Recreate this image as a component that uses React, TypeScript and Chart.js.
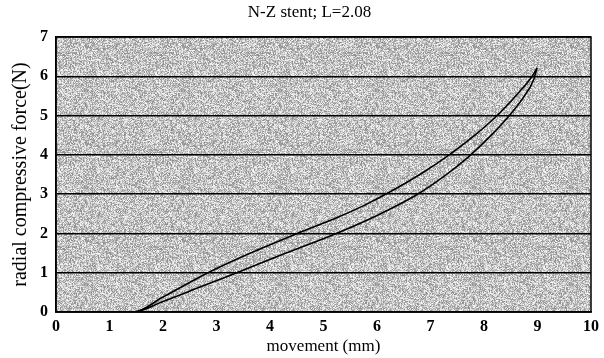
import React, { useEffect, useRef } from "react";
import { Chart, registerables } from "chart.js";

Chart.register(...registerables);

const titleText = "N-Z stent; L=2.08";
const xTitle = "movement (mm)";
const yTitle = "radial compressive force(N)";

const upperX = [0, 1.45, 2.0, 2.84, 3.5, 4.51, 5.3, 5.8, 6.22, 6.8, 7.35, 7.83, 8.26, 8.6, 8.9, 8.99];
const upperY = [0, 0, 0.38, 1.0, 1.42, 2.0, 2.43, 2.74, 3.04, 3.5, 4.0, 4.5, 5.02, 5.51, 6.0, 6.21];
const lowerX = [0, 1.45, 2.0, 2.7, 3.38, 4.3, 5.24, 6.05, 6.75, 7.27, 7.71, 8.1, 8.43, 8.72, 8.93, 8.99];
const lowerY = [0, 0, 0.27, 0.64, 1.0, 1.5, 2.0, 2.49, 2.99, 3.47, 3.95, 4.45, 4.93, 5.43, 5.92, 6.21];

const xMin = 0, xMax = 10, xStep = 1;
const yMin = 0, yMax = 7, yStep = 1;

function makeNoise(): CanvasPattern | string {
  const c = document.createElement("canvas");
  const n = 97;
  c.width = n;
  c.height = n;
  const ctx = c.getContext("2d");
  if (!ctx) return "#c0c0c0";
  const img = ctx.createImageData(n, n);
  for (let y = 0; y < n; y++) {
    for (let x = 0; x < n; x++) {
      let h = (x * 374761393 + y * 668265263) | 0;
      h = Math.imul(h ^ (h >>> 13), 1274126177);
      h = h ^ (h >>> 16);
      const v = 140 + ((h >>> 0) % 110);
      const i = (y * n + x) * 4;
      img.data[i] = v;
      img.data[i + 1] = v;
      img.data[i + 2] = v;
      img.data[i + 3] = 255;
    }
  }
  ctx.putImageData(img, 0, 0);
  return ctx.createPattern(c, "repeat") || "#c0c0c0";
}

export default function App() {
  const ref = useRef<HTMLCanvasElement | null>(null);
  useEffect(() => {
    if (!ref.current) return;
    const pattern = makeNoise();
    const serif = "'Liberation Serif', 'Times New Roman', serif";
    const bgPlugin = {
      id: "bgPlugin",
      beforeDraw(chart: any) {
        const { ctx, chartArea: a } = chart;
        ctx.save();
        ctx.fillStyle = pattern;
        ctx.fillRect(a.left, a.top, a.right - a.left, a.bottom - a.top);
        ctx.restore();
      },
      afterDraw(chart: any) {
        const { ctx, chartArea: a } = chart;
        ctx.save();
        ctx.strokeStyle = "#000";
        ctx.lineWidth = 1.5;
        ctx.strokeRect(a.left, a.top, a.right - a.left, a.bottom - a.top);
        ctx.fillStyle = "#000";
        ctx.font = `17px ${serif}`;
        ctx.textAlign = "center";
        ctx.textBaseline = "middle";
        ctx.fillText(titleText, (a.left + a.right) / 2 - 14, 13);
        ctx.restore();
      },
    };
    const chart = new Chart(ref.current, {
      type: "scatter",
      data: {
        datasets: [
          {
            label: "upper",
            data: upperX.map((x, i) => ({ x, y: upperY[i] })),
            showLine: true,
            borderColor: "#000",
            borderWidth: 1.6,
            pointRadius: 0,
            cubicInterpolationMode: "monotone",
          },
          {
            label: "lower",
            data: lowerX.map((x, i) => ({ x, y: lowerY[i] })),
            showLine: true,
            borderColor: "#000",
            borderWidth: 1.6,
            pointRadius: 0,
            cubicInterpolationMode: "monotone",
          },
        ],
      },
      options: {
        animation: false,
        responsive: false,
        devicePixelRatio: 1,
        layout: { padding: { left: 0, right: 12, top: 37, bottom: 0 } },
        plugins: {
          legend: { display: false },
          tooltip: { enabled: false },
          title: { display: false },
        },
        scales: {
          x: {
            type: "linear",
            min: xMin,
            max: xMax,
            ticks: {
              stepSize: xStep,
              color: "#000",
              font: { family: serif, size: 16, weight: "bold" },
              padding: 5,
            },
            grid: { display: false, drawTicks: false },
            border: { display: true, color: "#000", width: 1.5 },
            title: {
              display: true,
              text: xTitle,
              color: "#000",
              font: { family: serif, size: 17 },
              padding: { top: 0, bottom: 1 },
            },
            afterFit(scale: any) {
              scale.height = 46;
            },
          },
          y: {
            type: "linear",
            min: yMin,
            max: yMax,
            ticks: {
              stepSize: yStep,
              color: "#000",
              font: { family: serif, size: 16, weight: "bold" },
              padding: 8,
            },
            grid: { display: true, color: "#000", lineWidth: 1.5, drawTicks: false },
            border: { display: true, color: "#000", width: 1.5 },
            title: {
              display: true,
              text: yTitle,
              color: "#000",
              font: { family: serif, size: 20 },
              padding: { top: 9, bottom: 0 },
            },
            afterFit(scale: any) {
              scale.width = 56;
            },
          },
        },
      },
      plugins: [bgPlugin],
    });
    return () => chart.destroy();
  }, []);
  return (
    <div style={{ position: "fixed", left: 0, top: 0, width: 604, height: 358, background: "#fff" }}>
      <canvas ref={ref} width={604} height={358} style={{ width: 604, height: 358 }} />
    </div>
  );
}
